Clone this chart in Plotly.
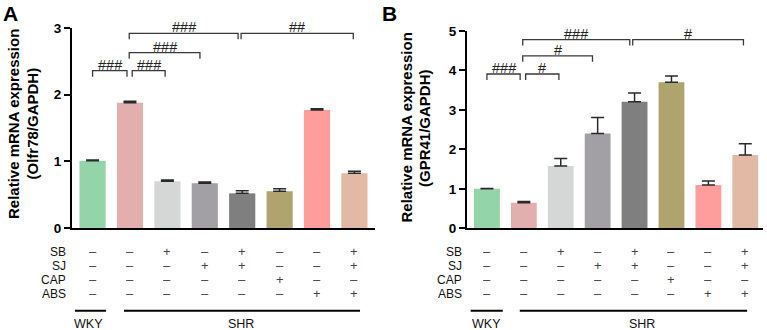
import plotly.graph_objects as go

W, H = 767, 330

groups = ["WKY", "SHR", "SB", "SJ", "SB+SJ", "CAP", "ABS", "SB+SJ+ABS"]
colors = ["#93d5a8", "#e3afae", "#d4d7d5", "#a2a0a5", "#7f7f7f", "#b0a46e", "#ff9c9c", "#e2b9a4"]

olfr78_mean = [1.01, 1.88, 0.70, 0.67, 0.52, 0.55, 1.77, 0.82]
olfr78_err = [0.01, 0.02, 0.02, 0.02, 0.04, 0.04, 0.02, 0.03]
gpr41_mean = [1.00, 0.65, 1.58, 2.40, 3.21, 3.70, 1.10, 1.86]
gpr41_err = [0.01, 0.03, 0.19, 0.41, 0.22, 0.16, 0.10, 0.28]

row_labels = ["SB", "SJ", "CAP", "ABS"]
treat_SB = ["-", "-", "+", "-", "+", "-", "-", "+"]
treat_SJ = ["-", "-", "-", "+", "+", "-", "-", "+"]
treat_CAP = ["-", "-", "-", "-", "-", "+", "-", "-"]
treat_ABS = ["-", "-", "-", "-", "-", "-", "+", "+"]
treat_rows = [treat_SB, treat_SJ, treat_CAP, treat_ABS]

# brackets: (from, to, height, label)
brackets_A = [(0.0, 0.92, 2.36, "###"), (1.06, 1.94, 2.36, "###"), (0.98, 2.87, 2.63, "###"),
              (0.98, 3.89, 2.92, "###"), (3.97, 6.97, 2.92, "##")]
brackets_B = [(0.0, 0.9, 3.91, "###"), (1.05, 1.95, 3.91, "#"), (0.97, 2.86, 4.37, "#"),
              (0.97, 3.87, 4.78, "###"), (3.95, 6.95, 4.78, "#")]

FONT = "Liberation Sans, Arial, sans-serif"

def py(px):
    return (H - px) / H

def pxx(px):
    return px / W

fig = go.Figure()
x = list(range(8))
fig.add_trace(go.Bar(x=x, y=olfr78_mean, marker=dict(color=colors, line=dict(width=0)),
                     error_y=dict(type="data", array=olfr78_err, arrayminus=[0]*8, symmetric=False,
                                  color="#2a2a2a", thickness=1.5, width=6.5),
                     xaxis="x", yaxis="y", showlegend=False))
fig.add_trace(go.Bar(x=x, y=gpr41_mean, marker=dict(color=colors, line=dict(width=0)),
                     error_y=dict(type="data", array=gpr41_err, arrayminus=[0]*8, symmetric=False,
                                  color="#2a2a2a", thickness=1.5, width=6.5),
                     xaxis="x2", yaxis="y2", showlegend=False))

axis_common = dict(showline=True, linecolor="black", linewidth=2, showgrid=False, zeroline=False)
fig.update_layout(
    width=W, height=H, margin=dict(l=0, r=0, t=0, b=0, autoexpand=False),
    plot_bgcolor="white", paper_bgcolor="white", bargap=0.3,
    font=dict(family=FONT, color="black"),
    xaxis=dict(domain=[pxx(72), pxx(375)], range=[-0.55, 7.55], showticklabels=False, ticks="",
               anchor="y", **axis_common),
    yaxis=dict(domain=[py(228), py(28)], range=[0, 3], tickvals=[0, 1, 2, 3], ticks="outside",
               ticklen=6, tickwidth=1.5, tickcolor="black", anchor="x",
               tickfont=dict(size=13.5, family=FONT, color="black", weight="bold"), **axis_common),
    xaxis2=dict(domain=[pxx(467), pxx(763)], range=[-0.54, 7.48], showticklabels=False, ticks="",
                anchor="y2", **axis_common),
    yaxis2=dict(domain=[py(228.3), py(31)], range=[0, 5], tickvals=[0, 1, 2, 3, 4, 5], ticks="outside",
                ticklen=6, tickwidth=1.5, tickcolor="black", anchor="x2",
                tickfont=dict(size=13.5, family=FONT, color="black", weight="bold"), **axis_common),
)

shapes = []
annots = []

def add_brackets(brs, xref, yref, drop):
    for a, b, h, lab in brs:
        shapes.append(dict(type="path", xref=xref, yref=yref,
                           path=f"M {a} {h-drop} L {a} {h} L {b} {h} L {b} {h-drop}",
                           line=dict(color="#3a3a3a", width=1.3)))
        annots.append(dict(x=(a + b) / 2, y=h, xref=xref, yref=yref, text=lab, showarrow=False,
                           yanchor="bottom", yshift=-4, font=dict(size=14.5, family=FONT, color="#222")))

add_brackets(brackets_A, "x", "y", 0.09)
add_brackets(brackets_B, "x2", "y2", 0.15)

row_y = [251.7, 265.7, 279.3, 293.3]

def add_table(xref, label_x, wky_line, shr_line, wky_lab, shr_lab):
    for r, (lab, vals) in enumerate(zip(row_labels, treat_rows)):
        annots.append(dict(x=pxx(label_x), y=py(row_y[r]), xref="paper", yref="paper", text=lab,
                           showarrow=False, xanchor="right", yanchor="middle", height=11, borderpad=0,
                           font=dict(size=12, family=FONT, color="#111")))
        for i, v in enumerate(vals):
            annots.append(dict(x=i, y=py(row_y[r]), xref=xref, yref="paper",
                               text="+" if v == "+" else "\u2013", showarrow=False,
                               xanchor="center", yanchor="middle", height=11, borderpad=0,
                               font=dict(size=13, family=FONT, color="#444")))
    for (a, b) in (wky_line, shr_line):
        shapes.append(dict(type="line", xref=xref, yref="paper", x0=a, x1=b, y0=py(310.7), y1=py(310.7),
                           line=dict(color="black", width=2)))
    annots.append(dict(x=wky_lab, y=py(323), xref=xref, yref="paper", text="WKY", showarrow=False,
                       yanchor="middle", height=13, borderpad=0, font=dict(size=12.5, family=FONT, color="#111")))
    annots.append(dict(x=shr_lab, y=py(323), xref=xref, yref="paper", text="SHR", showarrow=False,
                       yanchor="middle", height=13, borderpad=0, font=dict(size=12.5, family=FONT, color="#111")))

add_table("x", 67, (-0.47, 0.36), (0.84, 7.15), -0.1, 3.97)
add_table("x2", 463, (-0.44, 0.43), (0.89, 7.05), 0.0, 4.2)

# y axis titles
def ytitle(xc, yc, text):
    annots.append(dict(x=pxx(xc), y=py(yc), xref="paper", yref="paper", text=text, textangle=-90,
                       showarrow=False, xanchor="center", yanchor="middle",
                       font=dict(size=15, family=FONT, color="black", weight="bold")))

ytitle(14, 124, "Relative mRNA expression")
ytitle(32.5, 124, "(Olfr78/GAPDH)")
ytitle(405.5, 128, "Relative mRNA expression")
ytitle(424, 128, "(GPR41/GAPDH)")

# panel letters
annots.append(dict(x=pxx(10.5), y=py(13), xref="paper", yref="paper", text="A", showarrow=False,
                   xanchor="center", yanchor="middle", font=dict(size=21, family=FONT, color="black", weight="bold")))
annots.append(dict(x=pxx(389), y=py(13), xref="paper", yref="paper", text="B", showarrow=False,
                   xanchor="center", yanchor="middle", font=dict(size=21, family=FONT, color="black", weight="bold")))

fig.update_layout(shapes=shapes, annotations=annots)
fig.write_html("out.html", config={"displayModeBar": False},
               post_script="document.body.style.margin='0';document.body.style.padding='0';document.body.style.overflow='hidden';")
